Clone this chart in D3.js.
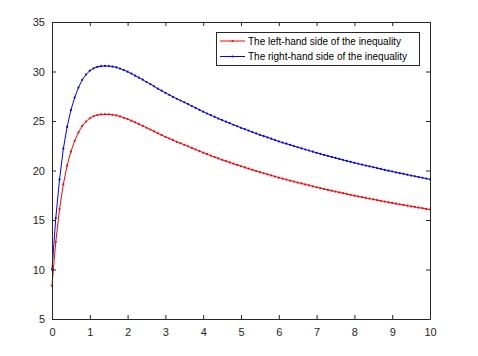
<!DOCTYPE html>
<html>
<head>
<meta charset="utf-8">
<script src="https://cdn.jsdelivr.net/npm/d3@7"></script>
<style>
html, body { margin: 0; padding: 0; background: #fff; }
svg { display: block; }
text { font-family: "Liberation Sans", Arial, Helvetica, sans-serif; }
</style>
</head>
<body>
<svg id="chart" width="478" height="356"></svg>
<script>
// ---- data ----
const xValues = [
  0.0,0.1,0.2,0.3,0.4,0.5,0.6,0.7,0.8,0.9,
  1.0,1.1,1.2,1.3,1.4,1.5,1.6,1.7,1.8,1.9,
  2.0,2.1,2.2,2.3,2.4,2.5,2.6,2.7,2.8,2.9,
  3.0,3.1,3.2,3.3,3.4,3.5,3.6,3.7,3.8,3.9,
  4.0,4.1,4.2,4.3,4.4,4.5,4.6,4.7,4.8,4.9,
  5.0,5.1,5.2,5.3,5.4,5.5,5.6,5.7,5.8,5.9,
  6.0,6.1,6.2,6.3,6.4,6.5,6.6,6.7,6.8,6.9,
  7.0,7.1,7.2,7.3,7.4,7.5,7.6,7.7,7.8,7.9,
  8.0,8.1,8.2,8.3,8.4,8.5,8.6,8.7,8.8,8.9,
  9.0,9.1,9.2,9.3,9.4,9.5,9.6,9.7,9.8,9.9,
  10.0
];
const leftSide = [
  8.36,12.80,16.10,18.60,20.50,21.90,23.00,23.85,24.50,24.95,
  25.28,25.48,25.60,25.66,25.68,25.67,25.63,25.56,25.46,25.33,
  25.19,25.03,24.86,24.69,24.51,24.32,24.14,23.95,23.76,23.58,
  23.40,23.23,23.06,22.90,22.75,22.60,22.44,22.28,22.12,21.96,
  21.80,21.65,21.50,21.36,21.22,21.08,20.95,20.82,20.69,20.56,
  20.43,20.31,20.19,20.07,19.95,19.83,19.72,19.61,19.50,19.39,
  19.28,19.18,19.08,18.98,18.88,18.78,18.69,18.59,18.50,18.40,
  18.31,18.22,18.13,18.04,17.96,17.87,17.79,17.71,17.62,17.54,
  17.46,17.38,17.31,17.23,17.16,17.08,17.01,16.94,16.86,16.79,
  16.72,16.65,16.58,16.52,16.45,16.38,16.32,16.25,16.19,16.12,
  16.06
];
const rightSide = [
  10.00,15.20,19.10,22.20,24.40,26.10,27.37,28.38,29.16,29.69,
  30.08,30.32,30.46,30.54,30.56,30.55,30.50,30.42,30.30,30.14,
  29.98,29.79,29.58,29.38,29.17,28.94,28.73,28.50,28.27,28.06,
  27.85,27.64,27.44,27.25,27.07,26.89,26.70,26.51,26.32,26.13,
  25.94,25.76,25.59,25.42,25.25,25.09,24.93,24.78,24.62,24.47,
  24.31,24.17,24.03,23.88,23.74,23.60,23.47,23.34,23.21,23.07,
  22.94,22.82,22.71,22.59,22.47,22.35,22.24,22.12,22.02,21.90,
  21.79,21.68,21.57,21.47,21.37,21.27,21.17,21.07,20.97,20.87,
  20.78,20.68,20.60,20.50,20.42,20.33,20.24,20.16,20.06,19.98,
  19.90,19.81,19.73,19.66,19.58,19.49,19.42,19.34,19.27,19.18,
  19.11
];
const seriesNames = ["The left-hand side of the inequality", "The right-hand side of the inequality"];
const seriesColors = ["#ff0000", "#0000ff"];
const xTicks = [0,1,2,3,4,5,6,7,8,9,10];
const yTicks = [5,10,15,20,25,30,35];

// ---- layout ----
const svg = d3.select("#chart");
const plot = {left: 52, right: 430, top: 22, bottom: 319};
const x = d3.scaleLinear().domain([0, 10]).range([plot.left, plot.right]);
const y = d3.scaleLinear().domain([5, 35]).range([plot.bottom, plot.top]);
const axisColor = "#262626";
const tickLen = 4;

const series = [leftSide, rightSide].map((vals, i) => ({
  name: seriesNames[i], color: seriesColors[i],
  points: vals.map((v, j) => ({x: xValues[j], y: v}))
}));

// lines + markers
const line = d3.line().x(d => x(d.x)).y(d => y(d.y));
const g = svg.append("g");
series.forEach(s => {
  g.append("path").datum(s.points)
    .attr("d", line).attr("fill", "none")
    .attr("stroke", s.color).attr("stroke-width", 1);
  g.selectAll(null).data(s.points).enter().append("circle")
    .attr("cx", d => x(d.x)).attr("cy", d => y(d.y))
    .attr("r", 1.1).attr("fill", s.color);
});

// axes (MATLAB box style, ticks inward)
const fmt = d3.format("d");
const axB = d3.axisBottom(x).tickValues(xTicks).tickFormat(fmt).tickSizeInner(-tickLen).tickSizeOuter(0).tickPadding(9);
const axT = d3.axisTop(x).tickValues(xTicks).tickFormat("").tickSizeInner(-tickLen).tickSizeOuter(0);
const axL = d3.axisLeft(y).tickValues(yTicks).tickFormat(fmt).tickSizeInner(-tickLen).tickSizeOuter(0).tickPadding(7);
const axR = d3.axisRight(y).tickValues(yTicks).tickFormat("").tickSizeInner(-tickLen).tickSizeOuter(0);

function styleAxis(sel) {
  sel.select(".domain").attr("stroke", axisColor).attr("stroke-width", 1);
  sel.selectAll(".tick line").attr("stroke", axisColor);
  sel.selectAll(".tick text").attr("fill", axisColor).attr("font-size", 11)
    .attr("font-family", "'Liberation Sans', Arial, sans-serif");
}
styleAxis(svg.append("g").attr("transform", `translate(0,${plot.bottom})`).call(axB));
styleAxis(svg.append("g").attr("transform", `translate(0,${plot.top})`).call(axT));
styleAxis(svg.append("g").attr("transform", `translate(${plot.left},0)`).call(axL));
styleAxis(svg.append("g").attr("transform", `translate(${plot.right},0)`).call(axR));

// legend
const leg = {left: 216, top: 32, width: 203, height: 33};
const lg = svg.append("g");
lg.append("rect").attr("x", leg.left + 0.5).attr("y", leg.top + 0.5)
  .attr("width", leg.width).attr("height", leg.height)
  .attr("fill", "#fff").attr("stroke", axisColor).attr("stroke-width", 1);
series.forEach((s, i) => {
  const cy = leg.top + 9 + i * 15.5;
  lg.append("line").attr("x1", leg.left + 4).attr("x2", leg.left + 29)
    .attr("y1", cy).attr("y2", cy).attr("stroke", s.color).attr("stroke-width", 1);
  lg.append("circle").attr("cx", leg.left + 16.5).attr("cy", cy).attr("r", 1.1).attr("fill", s.color);
  lg.append("text").attr("x", leg.left + 32).attr("y", cy).attr("dy", "0.35em")
    .attr("font-size", 10).attr("fill", "#000").text(s.name);
});
</script>
</body>
</html>
